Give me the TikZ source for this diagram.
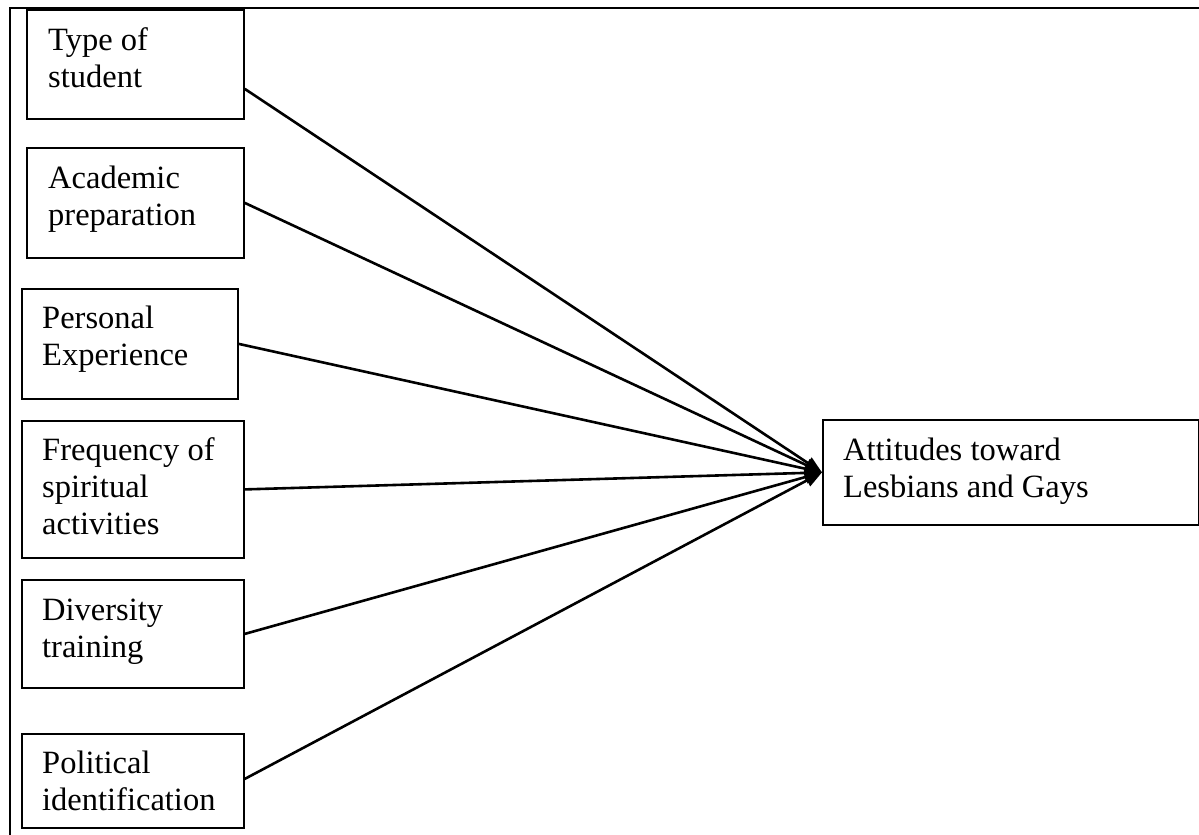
\documentclass[tikz,border=0pt]{standalone}
\usepackage{fontspec}
\setmainfont{Liberation Serif}
\usetikzlibrary{arrows.meta}

\tikzset{
  factor/.style={draw, line width=1.8pt, rectangle, anchor=north west, inner sep=0pt},
  lbl/.style={anchor=base west, inner sep=0pt, align=flush left, text width=#1,
              font=\fontsize{32.5}{37}\selectfont},
  lbl/.default=200pt,
  link/.style={line width=2.6pt, -{Triangle[length=17pt,width=13pt]}},
  frame/.style={line width=2pt}
}

\begin{document}
\begin{tikzpicture}[x=1pt,y=-1pt]
  \useasboundingbox (0,0) rectangle (1199,835);

  % page frame: top and left rule
  \coordinate (fr-r) at (1199,8);
  \coordinate (fr-c) at (10,8);
  \coordinate (fr-b) at (10,835);
  \draw[frame] (fr-r) -- (fr-c) -- (fr-b);

  % predictor boxes
  \node[factor, minimum width=217pt, minimum height=109pt] (b1) at (26,9) {};
  \node[factor, minimum width=217pt, minimum height=110pt] (b2) at (26,147) {};
  \node[factor, minimum width=216pt, minimum height=110pt] (b3) at (21,288) {};
  \node[factor, minimum width=222pt, minimum height=137pt] (b4) at (21,420) {};
  \node[factor, minimum width=222pt, minimum height=108pt] (b5) at (21,579) {};
  \node[factor, minimum width=222pt, minimum height=94pt]  (b6) at (21,733) {};

  % outcome box
  \node[factor, minimum width=376pt, minimum height=105pt] (out) at (822,419) {};

  % box texts
  \node[lbl] (t1) at ([xshift=22pt,yshift=-41pt]b1.north west) {Type of\\student};
  \node[lbl] (t2) at ([xshift=22pt,yshift=-41pt]b2.north west) {Academic\\preparation};
  \node[lbl] (t3) at ([xshift=21pt,yshift=-40pt]b3.north west) {Personal\\Experience};
  \node[lbl] (t4) at ([xshift=21pt,yshift=-40pt]b4.north west) {Frequency of\\spiritual\\activities};
  \node[lbl] (t5) at ([xshift=21pt,yshift=-41pt]b5.north west) {Diversity\\training};
  \node[lbl] (t6) at ([xshift=21pt,yshift=-40pt]b6.north west) {Political\\identification};
  \node[lbl=340pt] (t7) at ([xshift=21pt,yshift=-41pt]out.north west) {Attitudes toward\\Lesbians and Gays};

  % paths into the outcome
  \draw[link] ([yshift=-24.5pt]b1.east) -- (out.west);
  \draw[link] (b2.east) -- (out.west);
  \draw[link] (b3.east) -- (out.west);
  \draw[link] (b4.east) -- (out.west);
  \draw[link] (b5.east) -- (out.west);
  \draw[link] ([yshift=2pt]b6.east) -- (out.west);
\end{tikzpicture}
\end{document}
